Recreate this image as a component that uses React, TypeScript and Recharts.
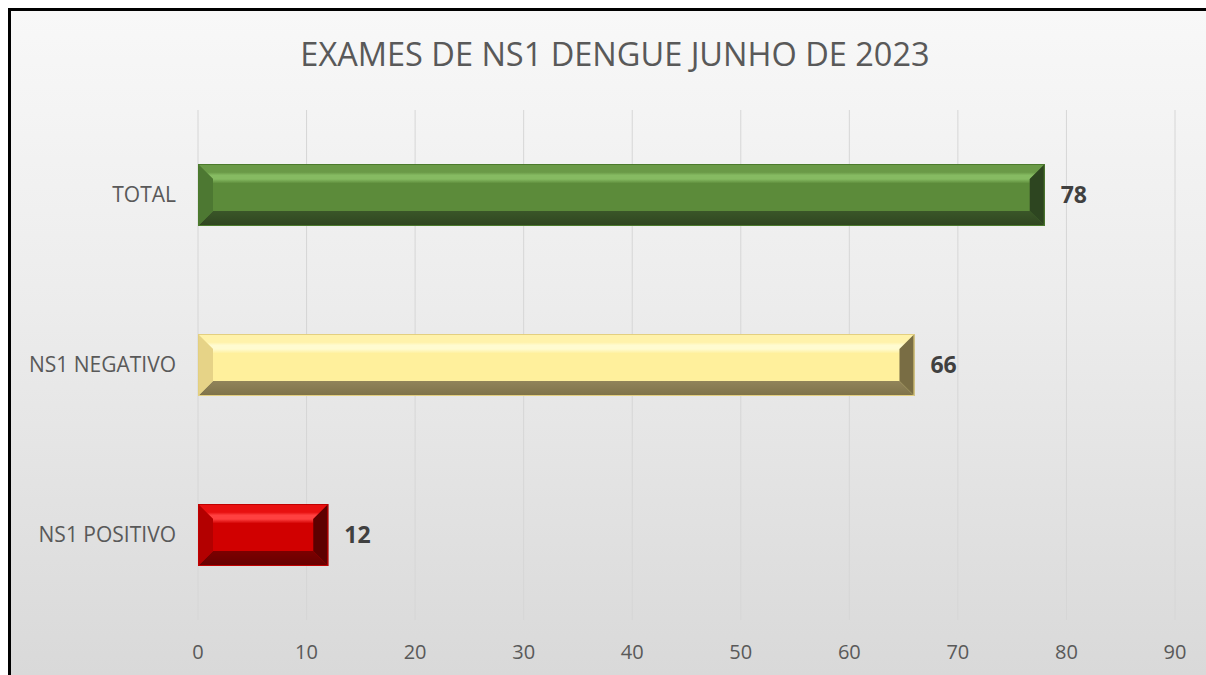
import { BarChart, Bar, XAxis, YAxis, CartesianGrid, Cell, LabelList } from 'recharts'

const categories = ['TOTAL', 'NS1 NEGATIVO', 'NS1 POSITIVO']
const values = [78, 66, 12]
const xTicks = [0, 10, 20, 30, 40, 50, 60, 70, 80, 90]

const data = categories.map((name, i) => ({ name, value: values[i] }))

// bevel palettes per bar
const palettes = [
  { center: '#5c8b3a', top: '#6a9a47', topHi: '#86bb62', bottom: '#3a5628', bottomOut: '#2f4520', left: '#4d7832', right: '#2d4520', edge: '#4b7a2c' },
  { center: '#fff09c', top: '#fff2aa', topHi: '#fffbd0', bottom: '#91845a', bottomOut: '#7e7249', left: '#e6d387', right: '#796d44', edge: '#e3cf80' },
  { center: '#d10000', top: '#e81010', topHi: '#ff4040', bottom: '#7c0000', bottomOut: '#660000', left: '#b30000', right: '#5e0000', edge: '#c00000' },
]

const FONT = '"Open Sans", sans-serif'

function BevelBar(props: { x?: number; y?: number; width?: number; height?: number; index?: number }) {
  const { x = 0, y = 0, width: w = 0, height: h = 0, index = 0 } = props
  const p = palettes[index % palettes.length]
  const b = Math.min(15, w / 2)
  const topId = `bev-top-${index}`
  const midId = `bev-mid-${index}`
  const botId = `bev-bot-${index}`
  return (
    <g>
      <defs>
        <linearGradient id={topId} x1="0" y1="0" x2="0" y2="1">
          <stop offset="0%" stopColor={p.top} />
          <stop offset="55%" stopColor={p.top} />
          <stop offset="75%" stopColor={p.topHi} />
          <stop offset="100%" stopColor={p.topHi} />
        </linearGradient>
        <linearGradient id={midId} x1="0" y1="0" x2="0" y2="1">
          <stop offset="0%" stopColor={p.topHi} />
          <stop offset="14%" stopColor={p.center} />
          <stop offset="100%" stopColor={p.center} />
        </linearGradient>
        <linearGradient id={botId} x1="0" y1="0" x2="0" y2="1">
          <stop offset="0%" stopColor={p.bottom} />
          <stop offset="100%" stopColor={p.bottomOut} />
        </linearGradient>
      </defs>
      <rect x={x} y={y} width={w} height={h} fill={p.center} />
      <rect x={x + b} y={y + b} width={Math.max(0, w - 2 * b)} height={Math.max(0, h - 2 * b)} fill={`url(#${midId})`} />
      <polygon points={`${x},${y} ${x + w},${y} ${x + w - b},${y + b} ${x + b},${y + b}`} fill={`url(#${topId})`} />
      <polygon points={`${x},${y + h} ${x + w},${y + h} ${x + w - b},${y + h - b} ${x + b},${y + h - b}`} fill={`url(#${botId})`} />
      <polygon points={`${x},${y} ${x + b},${y + b} ${x + b},${y + h - b} ${x},${y + h}`} fill={p.left} />
      <polygon points={`${x + w},${y} ${x + w - b},${y + b} ${x + w - b},${y + h - b} ${x + w},${y + h}`} fill={p.right} />
      <rect x={x + 0.5} y={y + 0.5} width={w - 1} height={h - 1} fill="none" stroke={p.edge} strokeWidth={1} />
    </g>
  )
}

export default function App() {
  return (
    <div style={{ width: 1198, height: 667, overflow: 'hidden' }}>
      <style>{'html{overflow:hidden} body{margin:8px 0 0 8px}'}</style>
      <div
        style={{
          width: 1210,
          height: 664,
          borderTop: '3px solid #000',
          borderLeft: '3px solid #000',
          background: 'linear-gradient(to bottom, #f8f8f8 0%, #ececec 45%, #d9d9d9 100%)',
          position: 'relative',
          fontFamily: FONT,
        }}
      >
        <div
          style={{
            position: 'absolute',
            top: 20,
            left: 0,
            width: 1208,
            textAlign: 'center',
            fontSize: 32.5,
            color: '#595959',
            fontFamily: FONT,
          }}
        >
          EXAMES DE NS1 DENGUE JUNHO DE 2023
        </div>
        <BarChart
          width={1195}
          height={664}
          data={data}
          layout="vertical"
          margin={{ top: 99, right: 31, bottom: 0, left: 0 }}
          barSize={62}
        >
          <CartesianGrid horizontal={false} stroke="#d6d6d6" strokeWidth={1} />
          <XAxis
            type="number"
            domain={[0, 90]}
            ticks={xTicks}
            interval={0}
            axisLine={false}
            tickLine={false}
            height={55}
            tick={{ fill: '#595959', fontSize: 20, fontFamily: FONT, dy: 17 }}
          />
          <YAxis
            type="category"
            dataKey="name"
            width={187}
            axisLine={false}
            tickLine={false}
            tick={{ fill: '#595959', fontSize: 21, fontFamily: FONT, dx: -14 }}
          />
          <Bar dataKey="value" shape={<BevelBar />} isAnimationActive={false}>
            {data.map((d, i) => (
              <Cell key={d.name} fill={palettes[i].center} />
            ))}
            <LabelList
              dataKey="value"
              position="right"
              offset={16}
              style={{ fill: '#404040', fontSize: 23, fontWeight: 700, fontFamily: FONT }}
            />
          </Bar>
        </BarChart>
      </div>
    </div>
  )
}
